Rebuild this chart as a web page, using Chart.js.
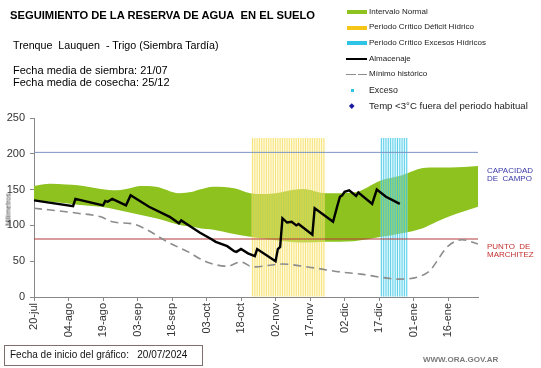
<!DOCTYPE html>
<html><head><meta charset="utf-8">
<script src="https://cdn.jsdelivr.net/npm/chart.js@4.4.1/dist/chart.umd.min.js"></script>
<style>
html,body{margin:0;padding:0;background:#fff;}
#wrap{position:relative;width:541px;height:368px;overflow:hidden;font-family:"Liberation Sans",Arial,sans-serif;background:#fff;}
#c{position:absolute;left:0;top:0;}
.t{position:absolute;white-space:nowrap;color:#000;}
.lg{position:absolute;white-space:nowrap;color:#222;font-size:8px;line-height:10px;left:369px;}
.sw{position:absolute;}
</style></head><body>
<div id="wrap">
<canvas id="c" width="541" height="368"></canvas>
<div class="t" style="left:10px;top:9.5px;font-weight:bold;font-size:11.2px;line-height:11.2px;">SEGUIMIENTO DE LA RESERVA DE AGUA&nbsp; EN EL SUELO</div>
<div class="t" style="left:13px;top:39.5px;font-size:10.7px;line-height:10.7px;">Trenque&nbsp; Lauquen&nbsp; - Trigo (Siembra Tardía)</div>
<div class="t" style="left:13px;top:65px;font-size:11px;line-height:11px;">Fecha media de siembra: 21/07</div>
<div class="t" style="left:13px;top:76.5px;font-size:11px;line-height:11px;">Fecha media de cosecha: 25/12</div>

<div class="sw" style="left:347px;top:10px;width:20px;height:4px;background:#8dc21f;"></div>
<div class="lg" style="top:7px;">Intervalo Normal</div>
<div class="sw" style="left:347px;top:26px;width:20px;height:4px;background:#f5c518;"></div>
<div class="lg" style="top:22px;">Periodo Crítico Déficit Hídrico</div>
<div class="sw" style="left:347px;top:41px;width:20px;height:4px;background:#2ec4e6;"></div>
<div class="lg" style="top:38px;">Periodo Crítico Excesos Hídricos</div>
<div class="sw" style="left:346px;top:58px;width:21px;height:2px;background:#000;"></div>
<div class="lg" style="top:54px;">Almacenaje</div>
<div class="sw" style="left:346px;top:73.5px;width:10px;height:1.5px;background:#8c8c8c;"></div>
<div class="sw" style="left:358px;top:73.5px;width:9px;height:1.5px;background:#8c8c8c;"></div>
<div class="lg" style="top:69px;">Mínimo histórico</div>
<div class="sw" style="left:351px;top:89px;width:2.5px;height:2.5px;background:#2ec4e6;"></div>
<div class="lg" style="top:85px;font-size:8.8px;">Exceso</div>
<div class="sw" style="left:350px;top:103.5px;width:3.5px;height:3.5px;background:#1a1aa0;transform:rotate(45deg);"></div>
<div class="lg" style="top:100.5px;font-size:9.6px;">Temp &lt;3°C fuera del periodo habitual</div>

<div class="t" style="left:487px;top:166.5px;font-size:8px;line-height:8.5px;color:#3a3aa8;">CAPACIDAD<br>DE&nbsp; CAMPO</div>
<div class="t" style="left:487px;top:242.5px;font-size:8px;line-height:8.5px;color:#c43030;">PUNTO&nbsp; DE<br>MARCHITEZ</div>

<div class="t" style="left:-9px;top:206px;font-size:7px;line-height:7px;color:#333;transform:rotate(-90deg);transform-origin:50% 50%;width:34px;text-align:center;">Milímetros</div>

<div class="t" style="left:4px;top:345px;width:197px;height:19px;border:1px solid #7f6f6f;"></div>
<div class="t" style="left:10px;top:349px;font-size:10px;line-height:12px;color:#111;">Fecha de inicio del gráfico:&nbsp;&nbsp; 20/07/2024</div>
<div class="t" style="left:423px;top:355px;font-size:8px;line-height:10px;color:#7a7a7a;font-weight:bold;">WWW.ORA.GOV.AR</div>
</div>
<script>
// ---- data (x = days since 20-jul) ----
const tickStep = 15;
const tickLabels = ['20-jul','04-ago','19-ago','03-sep','18-sep','03-oct','18-oct','02-nov','17-nov','02-dic','17-dic','01-ene','16-ene'];
const xMax = 193;
const yTicks = [0,50,100,150,200,250];

const bandDays  = [0,7,14,19,29,36,43,46,53,63,69,72,78,87,94,101,117,127,139,151,160,169,175,181,193];
const bandUpper = [155,158,157,156,151,149,153,155,154,145,147,150,154,152,145,144,151,145,146,163,170,180,181,181,183];
const bandLower = [135,133,131,129,126,122,117,115,110,101,98,96,94,88,84,81,76,77,78,84,89,96,105,113,126];

const storDays = [0,17,18,30,31,32,34,40,42,50,59,63,64,72,77,79,84,87,88,90,93,96,97,105,106,107,108,110,112,114,115,121,122,130,132,133,134,135,137,140,141,147,149,153,159];
const storVals = [135,127,137,128,134,133,137,128,142,126,112,103,107,90,81,77,71,64,63,67,61,57,67,50,67,70,110,104,105,100,102,87,124,105,129,140,142,147,149,141,146,130,150,140,130];

const minDays = [0,19,29,34,43,49,58,67,75,84,90,95,108,119,133,142,152,158,171,180,186,193];
const minVals = [124,117,112,105,102,94,77,63,49,43,49,42,46,42,35,32,27,25,34,71,80,74];

const capacidadCampo = 202;
const puntoMarchitez = 81;

const deficitStart = 95, deficitEnd = 126;
const excesoStart = 151, excesoEnd = 162;
const periodTop = 222;

// ---- build ----
const pts = (xs, ys) => xs.map((x, i) => ({x, y: ys[i]}));
const range = (a, b, v) => { const r = []; for (let d = a; d <= b; d++) r.push({x: d, y: v}); return r; };
const flat = v => [{x: 0, y: v}, {x: xMax, y: v}];

const ctx = document.getElementById('c').getContext('2d');
new Chart(ctx, {
  type: 'line',
  data: {
    datasets: [
      {label:'upper', data: pts(bandDays, bandUpper), borderWidth:0, pointRadius:0, fill:'+1', backgroundColor:'#8dc21f', cubicInterpolationMode:'monotone', order:20},
      {label:'lower', data: pts(bandDays, bandLower), borderWidth:0, pointRadius:0, fill:false, cubicInterpolationMode:'monotone', order:19},
      {type:'bar', label:'defBg', data: range(deficitStart, deficitEnd, periodTop), backgroundColor:'rgba(255,246,175,0.4)', grouped:false, categoryPercentage:1, barPercentage:1.02, order:15},
      {type:'bar', label:'defLn', data: range(deficitStart, deficitEnd, periodTop), backgroundColor:'rgba(240,210,60,0.6)', grouped:false, categoryPercentage:1, barPercentage:0.45, order:14},
      {type:'bar', label:'excBg', data: range(excesoStart, excesoEnd, periodTop), backgroundColor:'rgba(185,240,250,0.4)', grouped:false, categoryPercentage:1, barPercentage:1.02, order:15},
      {type:'bar', label:'excLn', data: range(excesoStart, excesoEnd, periodTop), backgroundColor:'rgba(40,190,225,0.7)', grouped:false, categoryPercentage:1, barPercentage:0.45, order:14},
      {label:'cc', data: flat(capacidadCampo), borderColor:'#7b95c6', borderWidth:1, pointRadius:0, fill:false, order:10},
      {label:'pm', data: flat(puntoMarchitez), borderColor:'#b23a3a', borderWidth:1, pointRadius:0, fill:false, order:9},
      {label:'Mínimo histórico', data: pts(minDays, minVals), borderColor:'#8c8c8c', borderWidth:1.6, borderDash:[8,5], pointRadius:0, fill:false, cubicInterpolationMode:'monotone', order:5},
      {label:'Almacenaje', data: pts(storDays, storVals), borderColor:'#000', borderWidth:2.4, pointRadius:0, fill:false, tension:0, order:1}
    ]
  },
  options: {
    responsive:false, animation:false,
    layout:{padding:{top:118, right:63, left:0, bottom:0}},
    plugins:{legend:{display:false}, tooltip:{enabled:false}},
    scales:{
      x:{type:'linear', min:0, max:xMax, offset:false,
        afterFit(s){ s.height = 71; },
        afterBuildTicks(s){ s.ticks = tickLabels.map((_, i) => ({value: i*tickStep})); },
        ticks:{autoSkip:false, maxRotation:90, minRotation:90, padding:2, color:'#333', font:{family:'Liberation Sans', size:11},
          callback:(v) => tickLabels[Math.round(v/tickStep)] ?? ''},
        grid:{display:true, drawOnChartArea:false, drawTicks:true, tickLength:4, color:'#888', offset:false},
        border:{display:true, color:'#888', width:1}
      },
      y:{type:'linear', min:0, max:250,
        afterFit(s){ s.width = 34; },
        afterBuildTicks(s){ s.ticks = yTicks.map(v => ({value:v})); },
        ticks:{padding:5, color:'#333', font:{family:'Liberation Sans', size:11}},
        grid:{display:true, drawOnChartArea:false, drawTicks:true, tickLength:4, color:'#888'},
        border:{display:true, color:'#888', width:1}
      }
    }
  }
});
</script>
</body></html>
